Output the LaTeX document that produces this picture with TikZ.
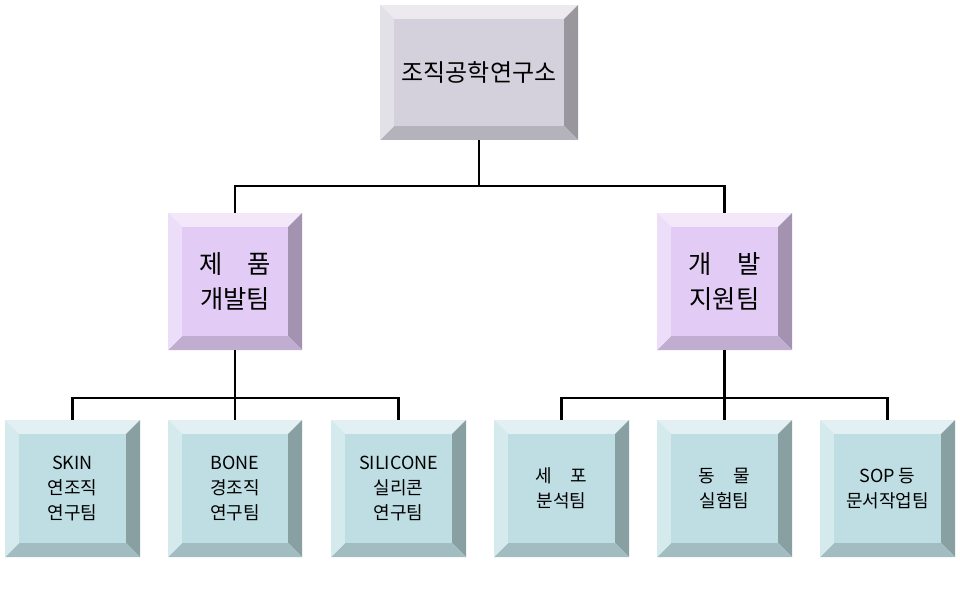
\documentclass[tikz,border=0pt]{standalone}
\usepackage{fontspec}
\setmainfont{Noto Sans CJK KR}
\tikzset{
  face/.style={align=center, inner sep=0pt},
  link/.style={draw=black, line width=1.6pt},
}
% #1 name, #2 left, #3 top, #4 width, #5 height, #6 colour, #7 text size, #8 text
\newcommand{\bevelbox}[8]{
  \fill[#6!45!white] (#2,-#3) rectangle ++(#4,-#5);
  \fill[#6!72!black] (#2+#4,-#3) -- ++(0,-#5) -- ++(-14,14) -- ++(0,#5-28) -- cycle;
  \fill[#6!85!black] (#2,-#3-#5) -- ++(#4,0) -- ++(-14,14) -- ++(-#4+28,0) -- cycle;
  \fill[#6!65!white] (#2,-#3) -- ++(0,-#5) -- ++(14,14) -- ++(0,#5-28) -- cycle;
  \fill[#6] (#2+14,-#3-14) rectangle ++(#4-28,-#5+28);
  \node[face, font=#7] (#1) at (#2+#4/2,-#3-#5/2) {#8};
  \coordinate (#1-top) at (#2+#4/2,-#3);
  \coordinate (#1-bot) at (#2+#4/2,-#3-#5);
}
\definecolor{grayface}{HTML}{D4D1DC}
\definecolor{lilac}{HTML}{E2CCF5}
\definecolor{aqua}{HTML}{BFDEE3}
\begin{document}
\begin{tikzpicture}[x=0.75pt, y=0.75pt]
  \useasboundingbox (0,0) rectangle (960,-595);
  \bevelbox{lab}{380}{5}{198}{135}{grayface}{\fontsize{18}{22}\selectfont}{조직공학연구소}
  \bevelbox{prod}{168}{213}{134}{137}{lilac}{\fontsize{19}{26}\selectfont}{제\quad 품\\개발팀}
  \bevelbox{dev}{657}{213}{135}{137}{lilac}{\fontsize{19}{26}\selectfont}{개\quad 발\\지원팀}
  \bevelbox{skin}{5}{420}{135}{137}{aqua}{\fontsize{13.5}{19}\selectfont}{SKIN\\연조직\\연구팀}
  \bevelbox{bone}{168}{420}{134}{137}{aqua}{\fontsize{13.5}{19}\selectfont}{BONE\\경조직\\연구팀}
  \bevelbox{sili}{331}{420}{135}{137}{aqua}{\fontsize{13.5}{19}\selectfont}{SILICONE\\실리콘\\연구팀}
  \bevelbox{cell}{494}{420}{135}{137}{aqua}{\fontsize{13.5}{19}\selectfont}{세\quad 포\\분석팀}
  \bevelbox{anim}{657}{420}{135}{137}{aqua}{\fontsize{13.5}{19}\selectfont}{동\quad 물\\실험팀}
  \bevelbox{sop}{820}{420}{135}{137}{aqua}{\fontsize{13.5}{19}\selectfont}{SOP 등\\문서작업팀}
  % connectors
  \draw[link] (lab-bot) -- ++(0,-46) coordinate (j1);
  \draw[link] (prod-top) |- (j1) -| (dev-top);
  \draw[link] (prod-bot) -- ++(0,-48) coordinate (j2);
  \draw[link] (skin-top) |- (j2) -| (sili-top);
  \draw[link] (j2) -- (bone-top);
  \draw[link] (dev-bot) -- ++(0,-48) coordinate (j3);
  \draw[link] (cell-top) |- (j3) -| (sop-top);
  \draw[link] (j3) -- (anim-top);
\end{tikzpicture}
\end{document}
